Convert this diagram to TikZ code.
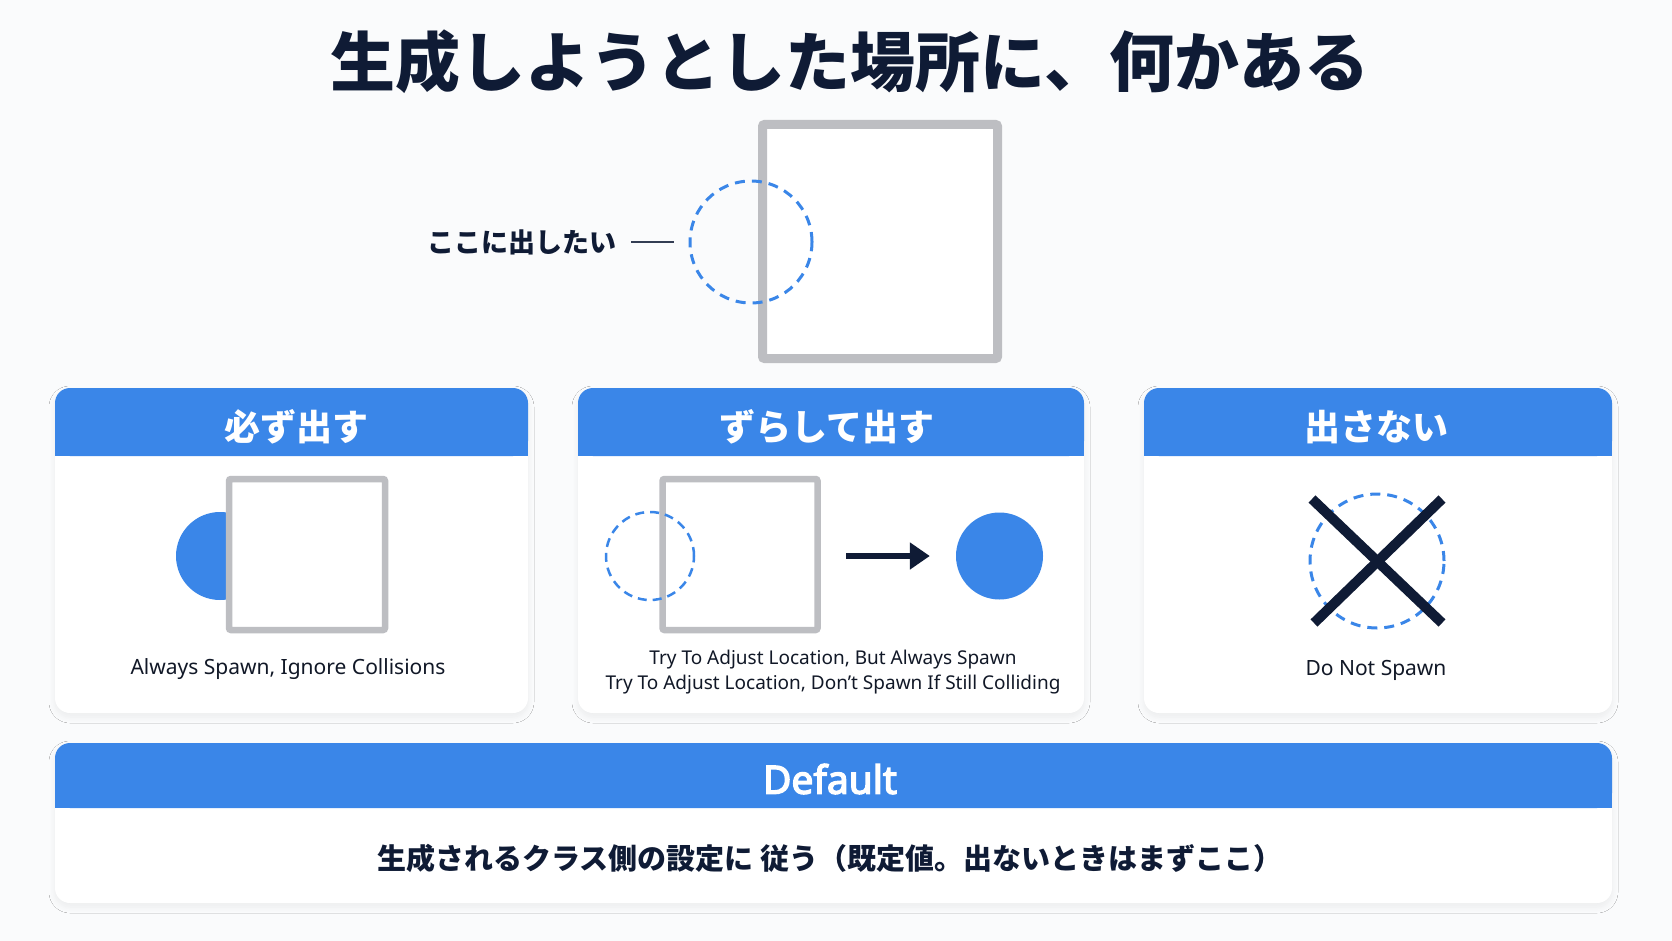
\documentclass[tikz,border=0pt]{standalone}
\usepackage{fontspec}
\setmainfont{Noto Sans}
\newfontfamily\enfb{Noto Sans}[FakeBold=3.5]
\newfontfamily\jp{Noto Sans CJK JP}
\usetikzlibrary{arrows.meta,shadows.blur}
\definecolor{bg}{HTML}{FAFBFC}
\definecolor{hblue}{HTML}{3A86E8}
\definecolor{navy}{HTML}{0F1B35}
\definecolor{sqgray}{HTML}{BDBEC2}
\definecolor{ink}{HTML}{111827}
\begin{document}
\begin{tikzpicture}[x=1pt,y=-1pt,
  card/.style={fill=white, rounded corners=15pt, inner sep=0pt, outer sep=0pt,
    blur shadow={shadow blur steps=10, shadow xshift=0pt, shadow yshift=-4pt, shadow opacity=6, shadow blur radius=6pt}},
  hdr/.style={fill=hblue, rounded corners=15pt, inner sep=0pt, outer sep=0pt},
  sqbox/.style={draw=sqgray, fill=white, rounded corners=2pt, inner sep=0pt},
  dcirc/.style={circle, draw=hblue, line width=3pt, dash pattern=on 10pt off 7pt, inner sep=0pt},
  fcirc/.style={circle, fill=hblue, inner sep=0pt},
  htext/.style={text=white, font=\jp\bfseries\fontsize{36}{40}\selectfont},
  entext/.style={text=ink, font=\fontsize{21}{25}\selectfont},
  ensmall/.style={text=ink, font=\fontsize{19}{25.5}\selectfont, align=center},
]
\fill[bg] (0,0) rectangle (1672,941);
\useasboundingbox (0,0) rectangle (1672,941);

% title
\node[text=navy, font=\jp\bfseries\fontsize{65}{70}\selectfont] (title) at (850,62) {生成しようとした場所に、何かある};

% top illustration
\node[sqbox, line width=9pt, minimum width=235, minimum height=234] (big) at (880,241.5) {};
\node[dcirc, minimum size=122] (spot) at (751,242) {};
\node[text=navy, font=\jp\bfseries\fontsize{27}{30}\selectfont, anchor=east] (lbl) at (620,242) {ここに出したい};
\draw[navy!85, line width=1.5pt] ([xshift=11pt]lbl.east) -- ([xshift=-15pt]spot.west);

% cards
\node[card, minimum width=473, minimum height=325, anchor=north west] (c1) at (55,388) {};
\node[card, minimum width=506, minimum height=325, anchor=north west] (c2) at (578,388) {};
\node[card, minimum width=468, minimum height=325, anchor=north west] (c3) at (1144,388) {};
\node[card, minimum width=1557, minimum height=160, anchor=north west] (c4) at (55,743) {};

% headers
\node[hdr, minimum width=473, minimum height=68, anchor=north west] (h1) at (55,388) {};
\fill[hblue] (h1.south west) rectangle ([yshift=20pt]h1.south east);
\node[hdr, minimum width=506, minimum height=68, anchor=north west] (h2) at (578,388) {};
\fill[hblue] (h2.south west) rectangle ([yshift=20pt]h2.south east);
\node[hdr, minimum width=468, minimum height=68, anchor=north west] (h3) at (1144,388) {};
\fill[hblue] (h3.south west) rectangle ([yshift=20pt]h3.south east);
\node[hdr, minimum width=1557, minimum height=65, anchor=north west] (h4) at (55,743) {};
\fill[hblue] (h4.south west) rectangle ([yshift=20pt]h4.south east);

\node[htext] (t1) at (296,427) {必ず出す};
\node[htext] (t2) at (827,427) {ずらして出す};
\node[htext] (t3) at (1376,427) {出さない};
\node[text=white, font=\enfb\fontsize{39}{44}\selectfont] (t4) at (830,779) {Default};

% card 1
\node[fcirc, minimum size=88] (s1) at (220,556) {};
\node[sqbox, line width=6.5pt, minimum width=156, minimum height=151] (q1) at (307,554.5) {};
\node[entext] (l1) at (288,669) {Always Spawn, Ignore Collisions};

% card 2
\node[sqbox, line width=6.5pt, minimum width=155, minimum height=151] (q2) at (740,554.5) {};
\node[dcirc, line width=2.5pt, dash pattern=on 9pt off 6pt, minimum size=88] (s2) at (650,556) {};
\node[fcirc, minimum size=87] (s3) at (999.5,556) {};
\coordinate (a0) at (846,556);
\draw[navy, line width=6pt, -{Triangle[length=20pt,width=26pt]}] (a0) -- ([xshift=-26pt]s3.west);
\node[ensmall] (l2) at (833,672) {Try To Adjust Location, But Always Spawn\\Try To Adjust Location, Don't Spawn If Still Colliding};

% card 3
\node[dcirc, minimum size=134] (s4) at (1377,561) {};
\draw[navy, line width=10pt] ([xshift=-65pt,yshift=62pt]s4.center) -- ([xshift=65pt,yshift=-62pt]s4.center);
\draw[navy, line width=10pt] ([xshift=65pt,yshift=62pt]s4.center) -- ([xshift=-63pt,yshift=-62pt]s4.center);
\node[entext] (l3) at (1376,670) {Do Not Spawn};

% default body
\node[text=navy, font=\jp\bfseries\fontsize{29}{32}\selectfont] (l4) at (830,858) {生成されるクラス側の設定に 従う（既定値。出ないときはまずここ）};
\end{tikzpicture}
\end{document}
